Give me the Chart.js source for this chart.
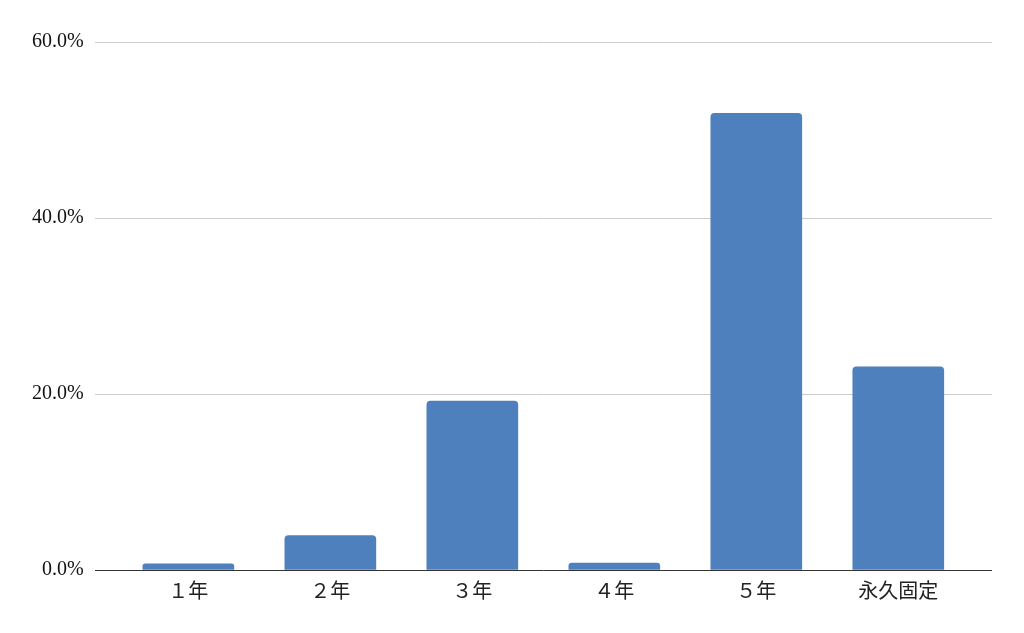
<!DOCTYPE html>
<html>
<head>
<meta charset="utf-8">
<script src="https://cdn.jsdelivr.net/npm/chart.js@4/dist/chart.umd.min.js"></script>
<style>
  html, body { margin: 0; padding: 0; background: #fff; }
  #wrap { width: 1024px; height: 633px; }
</style>
</head>
<body>
<div id="wrap"><canvas id="barChart"></canvas></div>
<script>
// 期間別の割合 (%)
const labels = ['１年', '２年', '３年', '４年', '５年', '永久固定'];
const values = [0.7, 3.9, 19.2, 0.8, 51.9, 23.1];
const yTicks = [0, 20, 40, 60];

const points = values.map((v, i) => ({ x: i, y: v }));

new Chart(document.getElementById('barChart').getContext('2d'), {
    type: 'bar',
    data: {
        datasets: [{
            data: points,
            backgroundColor: '#4e80bd',
            borderRadius: { topLeft: 4, topRight: 4 },
            borderSkipped: 'bottom',
            barThickness: 91
        }]
    },
    options: {
        responsive: true,
        maintainAspectRatio: false,
        animation: false,
        layout: { padding: { top: 42, right: 32, left: 21, bottom: 23 } },
        plugins: { legend: { display: false }, tooltip: { enabled: false } },
        scales: {
            x: {
                type: 'linear',
                offset: false,
                min: -0.66,
                max: 5.66,
                afterBuildTicks: axis => { axis.ticks = labels.map((l, i) => ({ value: i })); },
                grid: { display: false, drawTicks: false },
                border: { display: false },
                ticks: {
                    callback: v => labels[v],
                    color: '#222',
                    font: { family: '"Noto Sans CJK JP", sans-serif', size: 20 },
                    padding: 8
                }
            },
            y: {
                min: 0,
                max: 60,
                afterBuildTicks: axis => { axis.ticks = yTicks.map(v => ({ value: v })); },
                border: { display: false },
                grid: {
                    color: ctx => ctx.tick && ctx.tick.value === 0 ? '#333' : '#cccccc',
                    lineWidth: 1,
                    drawTicks: false
                },
                ticks: {
                    callback: v => v.toFixed(1) + '%',
                    color: '#111',
                    font: { family: '"Liberation Serif", serif', size: 20 },
                    padding: 11
                }
            }
        }
    }
});
</script>
</body>
</html>
